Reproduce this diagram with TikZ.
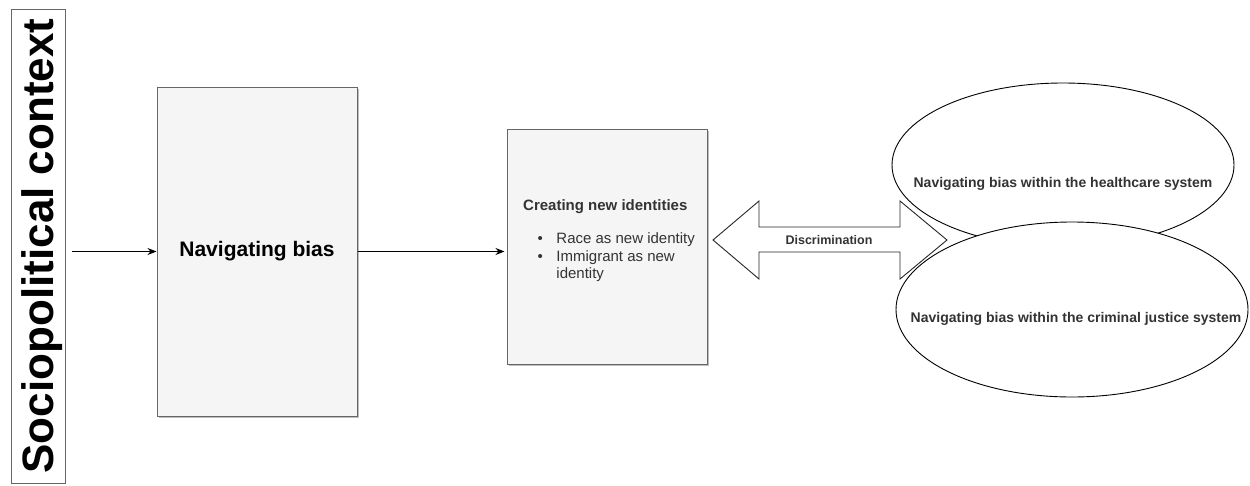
\documentclass[tikz,border=0pt]{standalone}
\usepackage{fontspec}
\setmainfont{Liberation Sans}
\usepackage{tikz}
\usetikzlibrary{arrows.meta, calc, positioning, shapes.geometric, shadows}
\definecolor{boxfill}{HTML}{F5F5F5}
\definecolor{boxline}{HTML}{666666}
\definecolor{txtgray}{HTML}{333333}

\begin{document}
\begin{tikzpicture}[x=1pt, y=-1pt, every node/.style={align=center, inner sep=0pt},
  stage/.style={draw=boxline, fill=boxfill, line width=1pt, minimum width=200pt,
    drop shadow={shadow xshift=2pt, shadow yshift=-2pt, fill=black, opacity=0.25}},
  field/.style={ellipse, draw, fill=white, line width=0.9pt},
  fieldtext/.style={font=\fontsize{14}{17}\selectfont\bfseries, text=txtgray},
  blockarrow/.style={draw=black!85, fill=white, line width=0.9pt, line join=miter},
  flow/.style={-{Stealth[length=9pt, width=7pt]}, line width=1pt}]
\useasboundingbox (0,0) rectangle (1250,485);

% Base nodes
\node (ctx) [draw=boxline, line width=1pt, rotate=90, minimum width=474pt, minimum height=54pt,
  text height=32pt, text depth=1pt, font=\fontsize{44}{50}\selectfont\bfseries] at (38,246) {Sociopolitical context};
\node (nav) [stage, minimum height=329pt, font=\fontsize{21}{25}\selectfont\bfseries] at (257,251.5) {Navigating bias};
\node (idbox) [stage, minimum height=235pt] at (607,246.5) {};
\node (idlist) [anchor=base west, text=txtgray, font=\fontsize{15}{17.5}\selectfont] at (523,210.5) {%
  \begin{tabular}[t]{@{\hspace{14.5pt}}l@{\hspace{13.5pt}}l@{}}
    \multicolumn{2}{@{}l@{}}{\bfseries Creating new identities}\\[15.5pt]
    \textbullet & Race as new identity\\
    \textbullet & Immigrant as new\\
     & identity
  \end{tabular}};

% Outcome fields
\node (hc) [field, minimum width=342pt, minimum height=164pt] at (1063,165) {};
\node (hctext) [fieldtext] at (1063,184) {Navigating bias within the healthcare system};
\node (cj) [field, minimum width=352pt, minimum height=175pt] at (1072,309.5) {};
\node (cjtext) [fieldtext] at (1076,319) {Navigating bias within the criminal justice system};

% Two-way link
\draw[blockarrow] (713,240) -- (759,201) -- (759,227) -- (900,227) -- (900,201) -- (947,240)
  -- (900,279) -- (900,252) -- (759,252) -- (759,279) -- cycle;
\node (discr) [font=\fontsize{12.5}{15}\selectfont\bfseries, text=txtgray] at (829,240) {Discrimination};

% Arrows
\coordinate (ctxout) at (72,251.5);
\draw[flow] (ctxout) -- (nav.west);
\draw[flow, shorten >=2pt] (nav.east) -- (nav.east -| idbox.west);
\end{tikzpicture}
\end{document}
